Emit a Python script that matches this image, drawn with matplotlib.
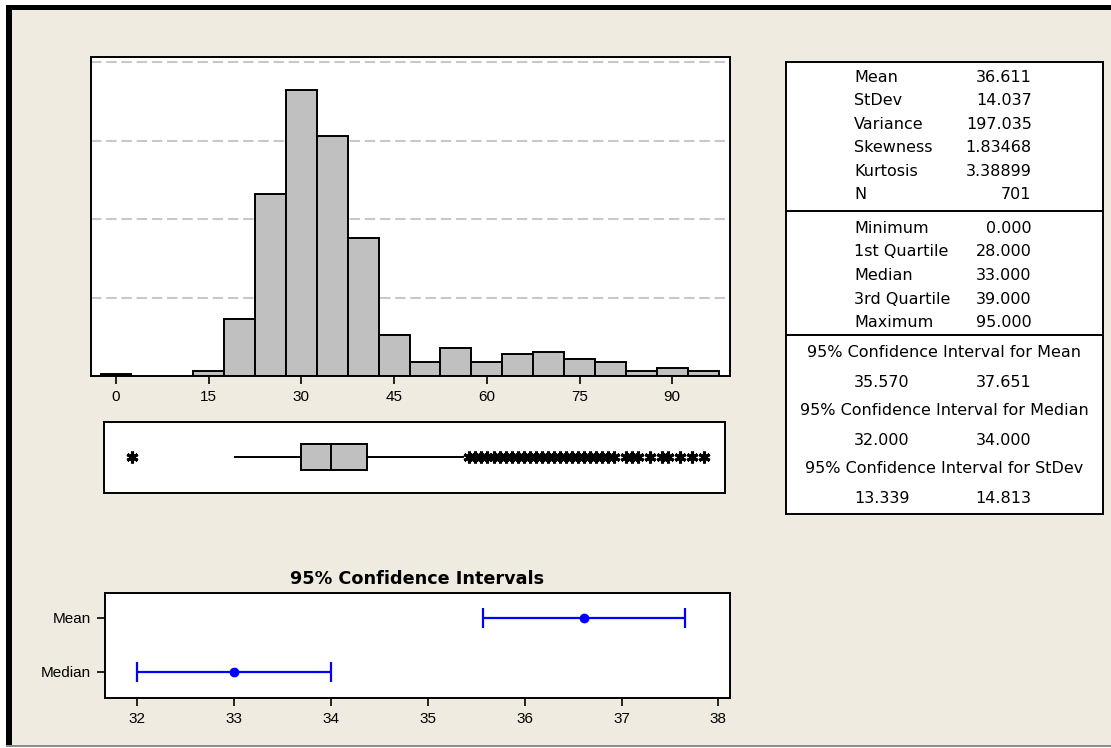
import matplotlib.pyplot as plt
from matplotlib.patches import Rectangle

# histogram: bin centres (width 5) and counts
bin_centers = [0, 15, 20, 25, 30, 35, 40, 45, 50, 55, 60, 65, 70, 75, 80, 85, 90, 95]
bin_counts = [1, 3, 36, 116, 182, 153, 88, 26, 9, 18, 9, 14, 15, 11, 9, 3, 5, 3]
hist_ticks = [0, 15, 30, 45, 60, 75, 90]
grid_levels = [50, 100, 150, 200]

# boxplot
q1, median, q3 = 28, 33, 39
whisker_low, whisker_high = 17, 55
outliers = [0, 56, 57, 58, 59, 60, 61, 62, 63, 64, 65, 66, 67, 68, 69, 70,
            71, 72, 73, 74, 75, 76, 77, 78, 79, 80, 82, 83, 84, 86, 88, 89, 91, 93, 95]

# summary table
stat_names = ["Mean", "StDev", "Variance", "Skewness", "Kurtosis", "N"]
stat_values = ["36.611", "14.037", "197.035", "1.83468", "3.38899", "701"]
quart_names = ["Minimum", "1st Quartile", "Median", "3rd Quartile", "Maximum"]
quart_values = ["0.000", "28.000", "33.000", "39.000", "95.000"]
ci_titles = ["95% Confidence Interval for Mean",
             "95% Confidence Interval for Median",
             "95% Confidence Interval for StDev"]
ci_lower_txt = ["35.570", "32.000", "13.339"]
ci_upper_txt = ["37.651", "34.000", "14.813"]

# confidence interval plot
ci_labels = ["Mean", "Median"]
ci_center = [36.611, 33.0]
ci_lower = [35.570, 32.0]
ci_upper = [37.651, 34.0]
ci_ticks = [32, 33, 34, 35, 36, 37, 38]

plt.rcParams['font.family'] = ['Liberation Sans', 'DejaVu Sans']
W, H = 1111, 748
BEIGE = '#EFEBE1'
GREY = '#C0C0C0'

fig = plt.figure(figsize=(W / 100, H / 100), dpi=100)
fig.patch.set_facecolor('white')


def px_axes(x0, y0, x1, y1):
    return fig.add_axes([x0 / W, 1 - y1 / H, (x1 - x0) / W, (y1 - y0) / H])


def px_rect(x0, y0, x1, y1, color):
    fig.add_artist(Rectangle((x0 / W, 1 - y1 / H), (x1 - x0) / W, (y1 - y0) / H,
                             transform=fig.transFigure, color=color, lw=0, zorder=-5))


# window background and frame
px_rect(12, 10, W, 745, BEIGE)
px_rect(6, 5, W, 10, 'black')
px_rect(6, 5, 12, 745, 'black')
px_rect(6, 745, W, 747, '#8C8C8C')


def frame(ax):
    for s in ax.spines.values():
        s.set_linewidth(1.4)
        s.set_color('black')


# ---- histogram
ax = px_axes(91, 56.7, 730, 376)
ax.bar(bin_centers, bin_counts, width=5, color=GREY, edgecolor='black', linewidth=1.4)
ax.set_xlim(-4.05, 99.35)
ax.set_ylim(0, 203.4)
ax.set_xticks(hist_ticks)
ax.set_yticks(grid_levels)
ax.tick_params(axis='y', length=0, labelleft=False)
ax.tick_params(axis='x', direction='out', length=6, width=1.2, labelsize=11, pad=4)
ax.yaxis.grid(True, color='#C8C8C8', lw=1.5, dashes=(5, 2.3))
ax.set_axisbelow(True)
frame(ax)

# ---- boxplot
axb = px_axes(104.3, 421.7, 725, 492.7)
stats = [dict(med=median, q1=q1, q3=q3, whislo=whisker_low, whishi=whisker_high,
              fliers=outliers)]
axb.bxp(stats, positions=[0.5], widths=0.37, orientation='horizontal',
        patch_artist=True, showcaps=False,
        boxprops=dict(facecolor=GREY, edgecolor='black', linewidth=1.4),
        medianprops=dict(color='black', linewidth=1.4),
        whiskerprops=dict(color='black', linewidth=1.4),
        flierprops=dict(marker=(6, 2, 0), markeredgecolor='black',
                        markersize=8.5, markeredgewidth=2.2))
axb.set_xlim(-4.65, 98.45)
axb.set_ylim(0, 1)
axb.set_xticks([])
axb.set_yticks([])
frame(axb)

# ---- summary table
axt = px_axes(785.7, 61.7, 1102.7, 514.3)
axt.set_xlim(785.7, 1102.7)
axt.set_ylim(514.3, 61.7)
axt.set_xticks([])
axt.set_yticks([])
frame(axt)
tfont = dict(family='DejaVu Sans', fontsize=11.5, va='center')
for i, (n, v) in enumerate(zip(stat_names, stat_values)):
    y = 77 + 23.5 * i
    axt.text(854, y, n, ha='left', **tfont)
    axt.text(1031.7, y, v, ha='right', **tfont)
for i, (n, v) in enumerate(zip(quart_names, quart_values)):
    y = 228.3 + 23.6 * i
    axt.text(854, y, n, ha='left', **tfont)
    axt.text(1031.7, y, v, ha='right', **tfont)
for i, (t, lo, hi) in enumerate(zip(ci_titles, ci_lower_txt, ci_upper_txt)):
    y = 352 + 58 * i
    axt.text(944.2, y, t, ha='center', **tfont)
    axt.text(854, y + 30, lo, ha='left', **tfont)
    axt.text(1031.7, y + 30, hi, ha='right', **tfont)
axt.axhline(210.7, color='black', lw=1.4)
axt.axhline(335, color='black', lw=1.4)

# ---- confidence intervals
axc = px_axes(105, 593.3, 730, 698.3)
ypos = list(range(len(ci_labels)))
xerr = [[c - lo for c, lo in zip(ci_center, ci_lower)],
        [hi - c for c, hi in zip(ci_center, ci_upper)]]
axc.errorbar(ci_center, ypos, xerr=xerr, fmt='o', color='#0000FF', ms=6,
             elinewidth=1.6, capsize=7, capthick=1.6)
axc.set_xlim(31.667, 38.12)
axc.set_ylim(1.49, -0.45)
axc.set_xticks(ci_ticks)
axc.set_yticks(ypos)
axc.set_yticklabels(ci_labels)
axc.tick_params(direction='out', length=6, width=1.2, labelsize=11, pad=4)
axc.set_title('95% Confidence Intervals', family='DejaVu Sans', fontweight='bold',
              fontsize=12.7, pad=7)
frame(axc)

fig.savefig('out.png', dpi=100)
